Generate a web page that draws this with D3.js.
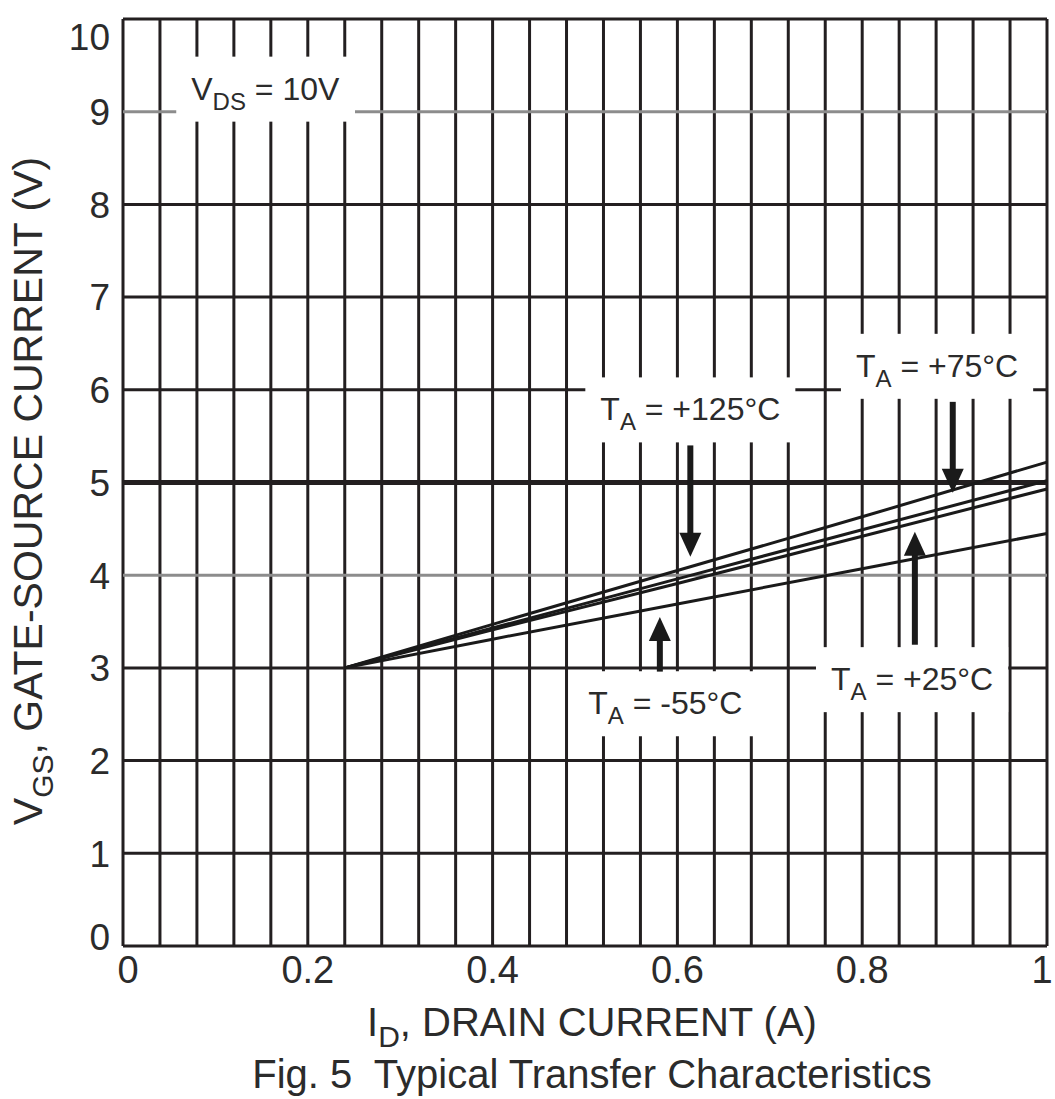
<!DOCTYPE html>
<html>
<head>
<meta charset="utf-8">
<script src="https://cdn.jsdelivr.net/npm/d3@7"></script>
<style>
  body { margin: 0; background: #fff; }
  text { font-family: "Liberation Sans", Arial, sans-serif; fill: #2b2b2b; }
</style>
</head>
<body>
<div id="chart"></div>
<script>
var margin = { top: 19, right: 8, bottom: 153, left: 123 };
var width = 924;
var height = 927;

// data
var xTicks = [0, 0.2, 0.4, 0.6, 0.8, 1];
var yTicks = [0, 1, 2, 3, 4, 5, 6, 7, 8, 9, 10];
var grayRows = [9, 4];
var idPoints = [0.24, 0.4, 0.6, 0.8, 1.0];
var vgs75 = [3.0, 3.47, 4.05, 4.63, 5.22];
var vgs125 = [3.0, 3.43, 3.96, 4.49, 5.02];
var vgs25 = [3.0, 3.41, 3.91, 4.42, 4.93];
var vgsMinus55 = [3.0, 3.31, 3.69, 4.07, 4.45];

var labels = [
    { main: "V", sub: "DS", rest: " = 10V", x: 0.154, y: 9.13 },
    { main: "T", sub: "A", rest: " = +125°C", x: 0.614, y: 5.67 },
    { main: "T", sub: "A", rest: " = +75°C", x: 0.881, y: 6.14 },
    { main: "T", sub: "A", rest: " = +25°C", x: 0.854, y: 2.76 },
    { main: "T", sub: "A", rest: " = -55°C", x: 0.587, y: 2.50 }
];
var arrows = [
    { x: 0.614, from: 5.40, to: 4.20 },
    { x: 0.898, from: 5.87, to: 4.89 },
    { x: 0.857, from: 3.25, to: 4.47 },
    { x: 0.581, from: 2.96, to: 3.55 }
];

var svg = d3.select("#chart")
    .append("svg")
    .attr("width", width + margin.left + margin.right)
    .attr("height", height + margin.top + margin.bottom)
    .append("g")
    .attr("transform", `translate(${margin.left}, ${margin.top})`);

var x = d3.scaleLinear().domain([0, 1]).range([0, width]);
var y = d3.scaleLinear().domain([0, 10]).range([height, 0]);

// grid
svg.append("g")
    .selectAll("line")
    .data(d3.range(0, 26).map(i => i * 0.04))
    .enter()
    .append("line")
    .attr("x1", d => x(d)).attr("x2", d => x(d))
    .attr("y1", 0).attr("y2", height)
    .attr("stroke", "#231f20")
    .attr("stroke-width", 3);

svg.append("g")
    .selectAll("line")
    .data(yTicks)
    .enter()
    .append("line")
    .attr("x1", 0).attr("x2", width)
    .attr("y1", d => y(d)).attr("y2", d => y(d))
    .attr("stroke", d => grayRows.includes(d) ? "#8c8c8c" : "#231f20")
    .attr("stroke-width", d => d === 5 ? 5 : 3);

// tick labels
svg.append("g")
    .selectAll("text")
    .data(yTicks)
    .enter()
    .append("text")
    .attr("x", -13)
    .attr("y", d => y(d) + (d === 10 ? 18 : d === 0 ? -9 : 0))
    .attr("dy", "0.36em")
    .attr("text-anchor", "end")
    .style("font-size", "37px")
    .text(d => d);

svg.append("g")
    .selectAll("text")
    .data(xTicks)
    .enter()
    .append("text")
    .attr("x", d => x(d) + (d === 0 ? 5 : d === 1 ? -5 : 0))
    .attr("y", height + 37)
    .attr("text-anchor", "middle")
    .style("font-size", "38px")
    .text(d => d);

// curves
var line = d3.line()
    .x((d, i) => x(idPoints[i]))
    .y(d => y(d));

svg.append("g")
    .selectAll("path")
    .data([vgs75, vgs125, vgs25, vgsMinus55])
    .enter()
    .append("path")
    .attr("d", line)
    .attr("fill", "none")
    .attr("stroke", "#1a1a1a")
    .attr("stroke-width", 3);

// annotation labels with white boxes
var lab = svg.append("g")
    .selectAll("g")
    .data(labels)
    .enter()
    .append("g");

lab.append("rect").attr("fill", "#fff");

var txt = lab.append("text")
    .attr("x", d => x(d.x))
    .attr("y", d => y(d.y))
    .attr("text-anchor", "middle")
    .style("font-size", "32px");
txt.append("tspan").text(d => d.main);
txt.append("tspan").attr("dy", 10).style("font-size", "24px").text(d => d.sub);
txt.append("tspan").attr("dy", -10).text(d => d.rest);

lab.each(function (d) {
    var b = d3.select(this).select("text").node().getBBox();
    d3.select(this).select("rect")
        .attr("x", b.x - 15)
        .attr("width", b.width + 30)
        .attr("y", y(d.y) - 43)
        .attr("height", 65);
});

// arrows
var arr = svg.append("g")
    .selectAll("g")
    .data(arrows)
    .enter()
    .append("g");

arr.append("line")
    .attr("x1", d => x(d.x)).attr("x2", d => x(d.x))
    .attr("y1", d => y(d.from))
    .attr("y2", d => y(d.to) + (d.to < d.from ? -20 : 20))
    .attr("stroke", "#1a1a1a")
    .attr("stroke-width", 6);

arr.append("path")
    .attr("d", function (d) {
        var tx = x(d.x), ty = y(d.to);
        var s = d.to < d.from ? -1 : 1;
        return `M${tx},${ty} L${tx - 11},${ty + s * 24} L${tx + 11},${ty + s * 24} Z`;
    })
    .attr("fill", "#1a1a1a");

// axis titles
var xt = svg.append("text")
    .attr("x", 469)
    .attr("y", height + 90)
    .attr("text-anchor", "middle")
    .style("font-size", "40px");
xt.append("tspan").text("I");
xt.append("tspan").attr("dy", 11).style("font-size", "30px").text("D");
xt.append("tspan").attr("dy", -11).text(", DRAIN CURRENT (A)");

svg.append("text")
    .attr("x", 469)
    .attr("y", height + 142)
    .attr("text-anchor", "middle")
    .style("font-size", "40px")
    .style("white-space", "pre")
    .text("Fig. 5  Typical Transfer Characteristics");

var yt = svg.append("text")
    .attr("transform", `translate(${-81}, ${472}) rotate(-90)`)
    .attr("text-anchor", "middle")
    .style("font-size", "41px");
yt.append("tspan").text("V");
yt.append("tspan").attr("dy", 11).style("font-size", "30px").text("GS");
yt.append("tspan").attr("dy", -11).text(", GATE-SOURCE CURRENT (V)");
</script>
</body>
</html>
